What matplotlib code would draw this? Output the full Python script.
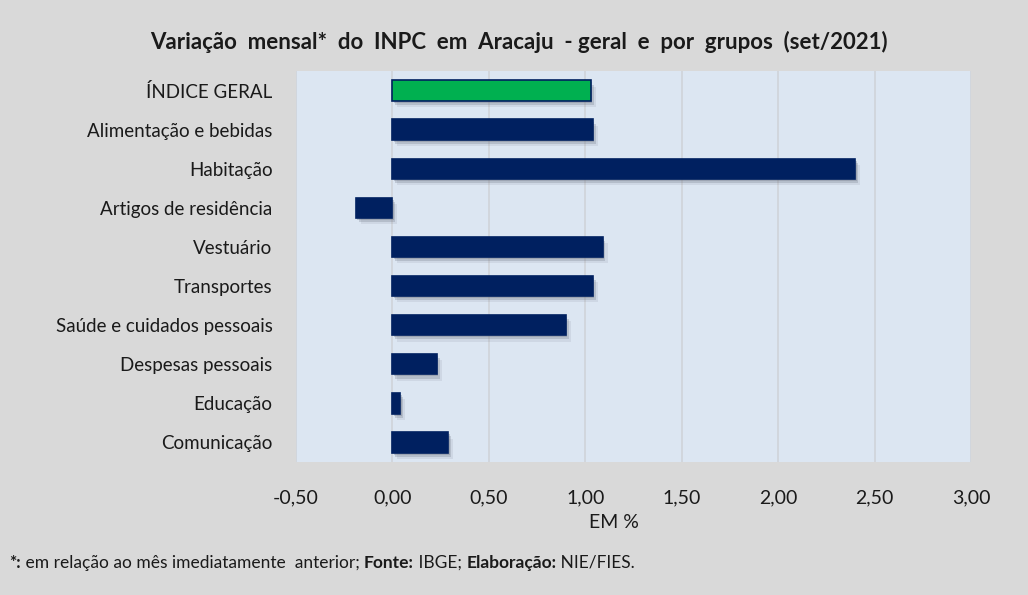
import matplotlib.pyplot as plt
import matplotlib.patheffects as pe

plt.rcParams['font.family'] = ['Lato', 'DejaVu Sans']

grupos = ['ÍNDICE GERAL', 'Alimentação e bebidas', 'Habitação', 'Artigos de residência',
          'Vestuário', 'Transportes', 'Saúde e cuidados pessoais', 'Despesas pessoais',
          'Educação', 'Comunicação']
variacao = [1.03, 1.04, 2.40, -0.19, 1.09, 1.04, 0.90, 0.23, 0.04, 0.29]
xticks = [-0.5, 0, 0.5, 1.0, 1.5, 2.0, 2.5, 3.0]

navy = '#002060'
green = '#00b050'

fig = plt.figure(figsize=(10.28, 5.95), dpi=100, facecolor='#d9d9d9')
ax = fig.add_axes([296 / 1028, 1 - 462 / 595, 675 / 1028, 391 / 595])
ax.set_facecolor('#dce6f2')

cores = [green] + [navy] * (len(grupos) - 1)
pos = list(range(len(grupos)))
# sombra suave (imitando a do Excel)
shadow = [pe.SimplePatchShadow(offset=(3.5, -4.5), shadow_rgbFace='#6a7080', alpha=0.12),
          pe.SimplePatchShadow(offset=(2, -3), shadow_rgbFace='#6a7080', alpha=0.25),
          pe.SimplePatchShadow(offset=(1, -1.5), shadow_rgbFace='#6a7080', alpha=0.3),
          pe.Normal()]
bars = ax.barh(pos, variacao, height=0.52, color=cores, edgecolor=navy, linewidth=1.2, zorder=3)
for b in bars:
    b.set_path_effects(shadow)

ax.set_ylim(len(grupos) - 0.5, -0.5)
ax.set_xlim(-0.5, 3.0)
ax.set_xticks(xticks)
ax.set_xticklabels([f'{v:.2f}'.replace('.', ',') for v in xticks], fontsize=14)
ax.set_yticks(pos)
ax.set_yticklabels(grupos, fontsize=13.5)
ax.tick_params(length=0, colors='#1a1a1a')
ax.tick_params(axis='y', pad=17)
ax.tick_params(axis='x', pad=20)
ax.grid(axis='x', color='#cfd3d9', linewidth=1.2, zorder=0)
ax.set_axisbelow(True)
for s in ax.spines.values():
    s.set_visible(False)

fig.text(614 / 1028, 1 - 522 / 595, 'EM %', ha='center', va='center', fontsize=14, color='#1a1a1a')
fig.text(519 / 1028, 1 - 42 / 595,
         'Variação  mensal*  do  INPC  em  Aracaju  - geral  e  por  grupos  (set/2021)',
         ha='center', va='center', fontsize=16, fontweight='bold', color='#1a1a1a')

# rodapé com trechos em negrito
pecas = [('*:', 'bold'), (' em relação ao mês imediatamente  anterior; ', 'normal'),
         ('Fonte:', 'bold'), (' IBGE; ', 'normal'), ('Elaboração:', 'bold'), (' NIE/FIES.', 'normal')]
fig.canvas.draw()
renderer = fig.canvas.get_renderer()
x0 = 9
for txt, peso in pecas:
    t = fig.text(x0 / 1028, 1 - 563 / 595, txt, ha='left', va='center', fontsize=12.5,
                 fontweight=peso, color='#1a1a1a')
    x0 += t.get_window_extent(renderer).width

fig.savefig('out.png', dpi=100, facecolor=fig.get_facecolor())
